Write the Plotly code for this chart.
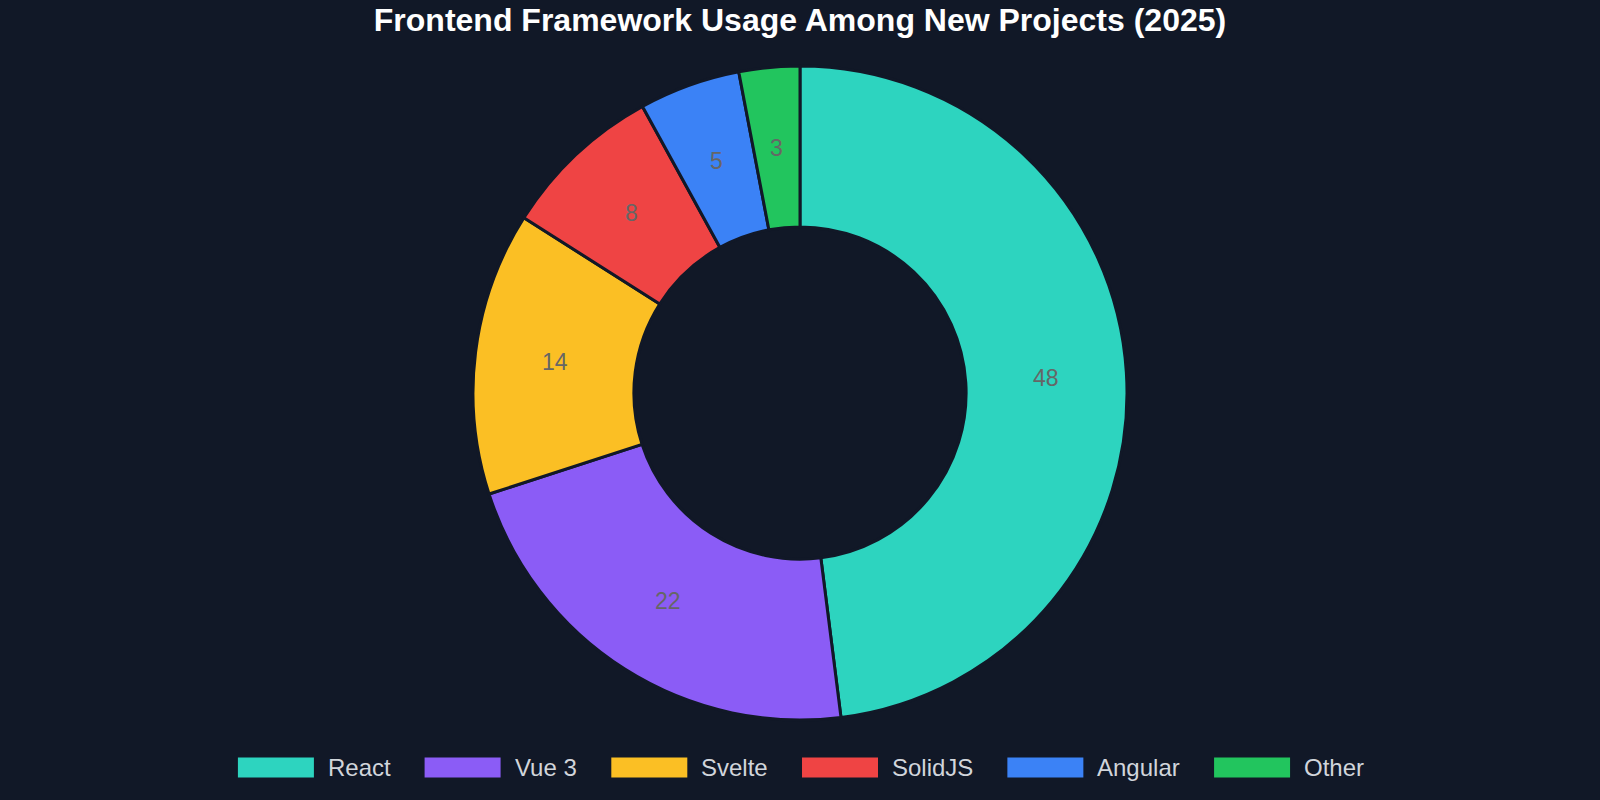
import math
import plotly.graph_objects as go

# ---- data ----
frameworks = ["React", "Vue 3", "Svelte", "SolidJS", "Angular", "Other"]
usage = [48, 22, 14, 8, 5, 3]
colors = ["#2dd4bf", "#8b5cf6", "#fbbf24", "#ef4444", "#3b82f6", "#22c55e"]
title_text = "Frontend Framework Usage Among New Projects (2025)"

W, H = 1600, 800
BG = "#111827"
FONT = "Liberation Sans, Arial, sans-serif"
HOLE = 0.508
DOM_Y = [0.1, 0.9175]

fig = go.Figure()
fig.add_trace(go.Pie(
    labels=frameworks,
    values=usage,
    sort=False,
    direction="clockwise",
    rotation=0,
    hole=HOLE,
    marker=dict(colors=colors, line=dict(color=BG, width=3)),
    textinfo="none",
    showlegend=False,
    domain=dict(x=[0, 1], y=DOM_Y),
    hoverinfo="label+value+percent",
))

annos = []

# ---- value labels at the middle of the ring (ECharts-style) ----
cx_px = W / 2
cy_px = H * (1 - (DOM_Y[0] + DOM_Y[1]) / 2)
r_out = min(W, (DOM_Y[1] - DOM_Y[0]) * H) / 2
r_mid = r_out * (1 + HOLE) / 2
tot = float(sum(usage))
cum = 0.0
for v in usage:
    mid = (cum + v / 2) / tot * 2 * math.pi
    cum += v
    px = cx_px + r_mid * math.sin(mid)
    py = cy_px - r_mid * math.cos(mid)
    annos.append(dict(text=str(v), xref="paper", yref="paper",
                      x=px / W, y=1 - py / H, xanchor="center", yanchor="middle",
                      showarrow=False,
                      font=dict(family=FONT, size=23, color="#666666")))

# ---- custom legend (wide colour swatches) ----
arial = {"R": 722, "e": 556, "a": 556, "c": 500, "t": 278, "V": 667, "u": 556,
         " ": 278, "3": 556, "S": 667, "v": 500, "l": 222, "o": 556, "i": 222,
         "d": 556, "J": 500, "A": 667, "n": 556, "g": 556, "r": 333, "O": 778,
         "h": 556}
fs = 24
def tw(s):
    return sum(arial.get(ch, 556) for ch in s) / 1000 * fs

sw_w, sw_h, gap_t, gap_i = 76, 20, 14, 34
widths = [sw_w + gap_t + tw(s) for s in frameworks]
total = sum(widths) + gap_i * (len(frameworks) - 1)
x = W / 2 - total / 2 + 1
yc = 767.5
shapes = []
for name, col, w in zip(frameworks, colors, widths):
    shapes.append(dict(type="rect", xref="paper", yref="paper",
                       x0=x / W, x1=(x + sw_w) / W,
                       y0=1 - (yc + sw_h / 2) / H, y1=1 - (yc - sw_h / 2) / H,
                       fillcolor=col, line=dict(width=0)))
    annos.append(dict(text=name, xref="paper", yref="paper",
                      x=(x + sw_w + gap_t - 2) / W, y=1 - yc / H,
                      xanchor="left", yanchor="middle", showarrow=False,
                      font=dict(family=FONT, size=fs, color="#d1d5db")))
    x += w + gap_i

fig.update_layout(
    width=W, height=H,
    paper_bgcolor=BG, plot_bgcolor=BG,
    margin=dict(l=0, r=0, t=0, b=0),
    title=dict(text="<b>" + title_text + "</b>", x=0.5, xanchor="center",
               y=1 - 19.5 / H, yanchor="middle",
               font=dict(family=FONT, size=32, color="#ffffff")),
    shapes=shapes, annotations=annos,
    showlegend=False,
)

fig.write_html("out.html")
